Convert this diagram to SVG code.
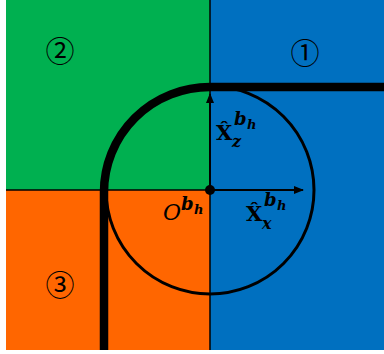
<svg xmlns="http://www.w3.org/2000/svg" width="384" height="354" viewBox="0 0 384 354">
<defs>
<style>
.thin{stroke:#000;stroke-width:1.5;fill:none}
.num{font-family:"Noto Sans CJK SC","DejaVu Sans",sans-serif;font-size:29px;fill:#000;text-anchor:middle}
.m{font-family:"DejaVu Serif","Liberation Serif",serif;font-weight:bold;fill:#000}
.mi{font-style:italic}
</style>
<marker id="ah" viewBox="0 0 10 10" refX="9" refY="5" markerWidth="10" markerHeight="10" markerUnits="userSpaceOnUse" orient="auto">
<path d="M0,1 L10,5 L0,9 Z" fill="#000"/>
</marker>
</defs>
<rect width="384" height="354" fill="#fff"/>
<g id="region2"><rect x="6" y="0" width="204" height="190" fill="#00B050"/><text class="num" x="60" y="62">②</text></g>
<g id="region1"><rect x="210" y="0" width="174" height="350" fill="#0070C0"/><text class="num" x="305" y="64">①</text></g>
<g id="region3"><rect x="6" y="190" width="204" height="160" fill="#FF6600"/><text class="num" x="60" y="296">③</text></g>
<g id="connectors">
<line class="thin" x1="210" y1="0" x2="210" y2="350"/>
<line class="thin" x1="6" y1="190" x2="210" y2="190"/>
<circle cx="210" cy="190" r="104" fill="none" stroke="#000" stroke-width="3"/>
<path d="M104,350 V192 A106,105 0 0 1 210,87 H384" fill="none" stroke="#000" stroke-width="8.5"/>
<line x1="210" y1="190" x2="210" y2="94" stroke="#000" stroke-width="2" marker-end="url(#ah)"/>
<line x1="210" y1="190" x2="303" y2="190" stroke="#000" stroke-width="2" marker-end="url(#ah)"/>
<circle cx="210" cy="190" r="5" fill="#000"/>
</g>
<g id="label-z">
<text class="m" x="216" y="140" font-size="21">X̂</text>
<text class="m mi" x="232" y="147" font-size="16">z</text>
<text class="m mi" x="234" y="125" font-size="18">b</text>
<text class="m mi" x="247" y="129" font-size="13">h</text>
</g>
<g id="label-x">
<text class="m" x="246" y="221" font-size="21">X̂</text>
<text class="m mi" x="262" y="229" font-size="16">x</text>
<text class="m mi" x="264" y="206" font-size="18">b</text>
<text class="m mi" x="277" y="210" font-size="13">h</text>
</g>
<g id="label-o">
<text font-family="DejaVu Serif, serif" font-style="italic" font-size="22" x="163" y="220">O</text>
<text class="m mi" x="181" y="210" font-size="18">b</text>
<text class="m mi" x="194" y="214" font-size="13">h</text>
</g>
</svg>
